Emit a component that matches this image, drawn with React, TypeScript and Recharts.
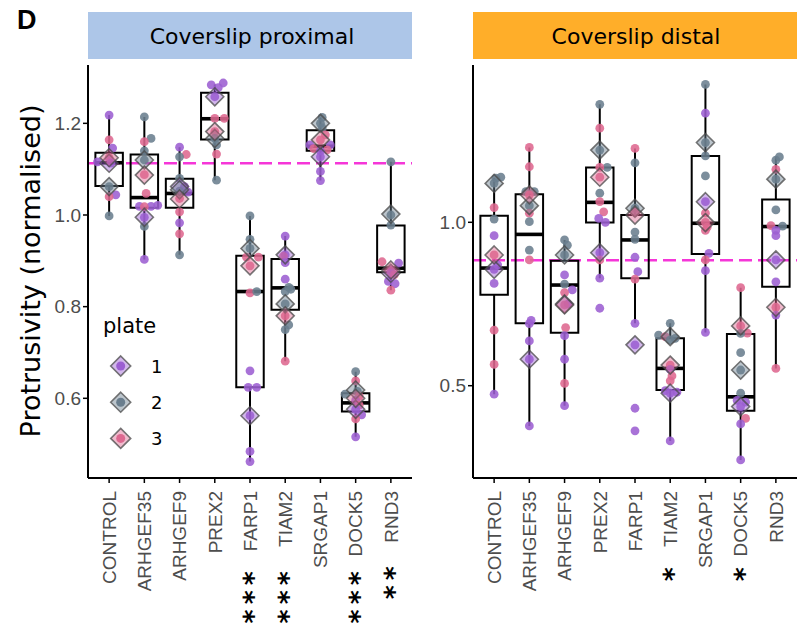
import React from "react";
import { ScatterChart, Scatter, XAxis, YAxis, ReferenceLine } from "recharts";

const categories = ["CONTROL", "ARHGEF35", "ARHGEF9", "PREX2", "FARP1", "TIAM2", "SRGAP1", "DOCK5", "RND3"];
const plates = [1, 2, 3];

// [category (1-based), value, plate, jitter]
const proximalPoints: [number, number, number, number][] = [
  [1, 1.218, 1, 0], [1, 1.164, 3, 0], [1, 1.146, 1, 0.1], [1, 1.116, 1, -0.33], [1, 1.125, 3, 0],
  [1, 1.113, 1, 0.05], [1, 1.062, 2, 0], [1, 1.044, 1, 0.19], [1, 1.04, 3, 0], [1, 0.998, 2, 0],
  [2, 1.214, 2, 0], [2, 1.167, 2, 0.19], [2, 1.16, 3, 0], [2, 1.14, 2, 0], [2, 1.12, 2, 0],
  [2, 1.088, 3, 0], [2, 1.047, 3, 0.05], [2, 1.019, 1, -0.14], [2, 1.019, 1, 0.19], [2, 1.021, 1, 0.38],
  [2, 1.018, 3, 0], [2, 0.995, 1, 0], [2, 0.975, 2, 0], [2, 0.903, 1, 0],
  [3, 1.148, 1, 0], [3, 1.132, 3, 0.19], [3, 1.127, 2, 0], [3, 1.08, 2, 0], [3, 1.062, 1, 0.14],
  [3, 1.05, 1, 0.24], [3, 1.052, 2, 0], [3, 1.036, 3, 0], [3, 1.007, 3, 0], [3, 0.983, 1, 0],
  [3, 0.959, 3, 0], [3, 0.913, 2, 0],
  [4, 1.284, 1, -0.1], [4, 1.288, 1, 0.24], [4, 1.278, 1, 0.1], [4, 1.258, 1, 0], [4, 1.211, 3, 0],
  [4, 1.211, 3, 0.27], [4, 1.182, 3, 0], [4, 1.167, 2, 0], [4, 1.153, 2, 0.05], [4, 1.133, 3, 0.05],
  [4, 1.076, 2, 0.05],
  [5, 0.998, 2, 0], [5, 0.947, 2, 0], [5, 0.927, 2, 0], [5, 0.908, 3, -0.1], [5, 0.908, 3, 0.24],
  [5, 0.889, 3, 0], [5, 0.83, 3, 0], [5, 0.833, 2, 0.19], [5, 0.66, 1, 0], [5, 0.624, 1, -0.05],
  [5, 0.624, 1, 0.19], [5, 0.562, 1, 0], [5, 0.484, 1, 0], [5, 0.462, 1, 0],
  [6, 0.954, 1, 0], [6, 0.913, 1, 0], [6, 0.91, 3, -0.05], [6, 0.896, 1, 0], [6, 0.86, 1, 0],
  [6, 0.842, 2, 0.1], [6, 0.838, 2, 0.16], [6, 0.833, 2, 0], [6, 0.806, 2, 0], [6, 0.78, 3, 0],
  [6, 0.76, 2, 0.1], [6, 0.75, 2, 0], [6, 0.681, 3, 0],
  [7, 1.213, 2, 0.05], [7, 1.2, 2, 0], [7, 1.19, 2, 0.05], [7, 1.175, 3, 0.14], [7, 1.164, 3, 0],
  [7, 1.153, 1, -0.3], [7, 1.153, 1, 0.28], [7, 1.145, 3, -0.19], [7, 1.142, 3, 0.19], [7, 1.14, 1, 0],
  [7, 1.127, 1, 0], [7, 1.095, 1, 0], [7, 1.075, 1, 0],
  [8, 0.658, 2, 0], [8, 0.638, 3, 0], [8, 0.609, 2, -0.3], [8, 0.615, 2, 0.05], [8, 0.605, 3, 0.1],
  [8, 0.596, 1, 0], [8, 0.585, 3, 0.1], [8, 0.576, 1, 0], [8, 0.564, 1, 0.17], [8, 0.555, 3, 0],
  [8, 0.516, 1, 0],
  [9, 1.116, 2, 0], [9, 1.0, 2, 0], [9, 0.978, 2, 0], [9, 0.898, 3, -0.25], [9, 0.895, 1, 0.22],
  [9, 0.88, 3, 0], [9, 0.873, 1, 0], [9, 0.855, 1, -0.07], [9, 0.85, 1, 0.12], [9, 0.836, 3, 0],
  [9, 0.87, 3, 0.1],
];

const distalPoints: [number, number, number, number][] = [
  [1, 1.138, 2, 0.19], [1, 1.135, 2, 0.05], [1, 1.12, 2, 0], [1, 1.045, 3, 0], [1, 1.01, 2, 0],
  [1, 0.959, 1, 0], [1, 0.9, 3, 0], [1, 0.87, 1, 0.1], [1, 0.856, 1, 0], [1, 0.813, 1, 0],
  [1, 0.67, 3, 0], [1, 0.565, 3, 0], [1, 0.474, 1, 0],
  [2, 1.229, 3, 0], [2, 1.17, 3, 0], [2, 1.094, 2, -0.1], [2, 1.094, 2, 0.14], [2, 1.084, 3, 0],
  [2, 1.051, 2, 0], [2, 1.028, 3, 0], [2, 1.002, 2, 0], [2, 0.915, 2, 0], [2, 0.885, 3, 0],
  [2, 0.7, 1, 0.05], [2, 0.69, 1, 0], [2, 0.637, 1, 0], [2, 0.581, 1, 0], [2, 0.377, 1, 0],
  [3, 0.946, 2, 0], [3, 0.93, 2, 0.08], [3, 0.9, 2, 0], [3, 0.839, 1, 0], [3, 0.811, 2, 0],
  [3, 0.793, 1, 0.22], [3, 0.785, 3, 0], [3, 0.75, 1, 0.1], [3, 0.747, 3, 0], [3, 0.678, 3, 0.03],
  [3, 0.653, 1, 0], [3, 0.581, 1, 0], [3, 0.507, 3, 0], [3, 0.439, 1, 0],
  [4, 1.361, 2, 0], [4, 1.288, 3, 0], [4, 1.221, 2, 0], [4, 1.168, 2, 0.21], [4, 1.168, 3, 0],
  [4, 1.138, 3, 0], [4, 1.089, 2, 0], [4, 1.063, 3, 0], [4, 1.032, 3, 0.11], [4, 1.012, 1, -0.03],
  [4, 1.0, 1, 0.16], [4, 0.907, 1, 0], [4, 0.885, 3, 0], [4, 0.829, 1, 0], [4, 0.737, 1, 0],
  [5, 1.226, 3, 0], [5, 1.182, 2, 0], [5, 1.043, 2, 0], [5, 1.03, 3, 0], [5, 0.97, 2, 0],
  [5, 0.948, 2, 0], [5, 0.893, 1, 0], [5, 0.849, 1, 0.08], [5, 0.826, 3, 0], [5, 0.691, 1, 0],
  [5, 0.625, 1, 0], [5, 0.431, 1, 0], [5, 0.362, 1, 0],
  [6, 0.691, 2, 0], [6, 0.655, 2, -0.33], [6, 0.65, 3, -0.14], [6, 0.645, 2, 0.14], [6, 0.64, 2, 0],
  [6, 0.563, 3, 0], [6, 0.55, 1, 0], [6, 0.53, 3, 0.05], [6, 0.515, 3, 0], [6, 0.485, 1, -0.14],
  [6, 0.48, 1, 0.19], [6, 0.477, 1, 0], [6, 0.331, 1, 0],
  [7, 1.422, 2, 0], [7, 1.334, 1, 0], [7, 1.244, 2, 0], [7, 1.203, 2, 0], [7, 1.142, 2, 0],
  [7, 1.063, 1, 0], [7, 1.028, 3, 0], [7, 1.0, 3, 0], [7, 0.985, 3, 0.05], [7, 0.975, 3, 0],
  [7, 0.905, 1, 0.1], [7, 0.885, 3, 0], [7, 0.852, 1, 0], [7, 0.663, 1, 0],
  [8, 0.8, 3, 0], [8, 0.683, 3, 0], [8, 0.661, 3, 0.19], [8, 0.66, 2, 0], [8, 0.601, 2, 0],
  [8, 0.548, 2, 0], [8, 0.477, 2, 0], [8, 0.455, 1, -0.1], [8, 0.45, 1, 0.14], [8, 0.436, 1, 0],
  [8, 0.4, 3, 0.14], [8, 0.383, 1, 0], [8, 0.273, 1, 0],
  [9, 1.2, 2, 0.1], [9, 1.19, 2, 0], [9, 1.162, 3, 0], [9, 1.132, 2, 0], [9, 1.038, 2, 0],
  [9, 0.99, 3, -0.14], [9, 0.988, 2, 0.19], [9, 0.975, 1, 0], [9, 0.959, 1, 0], [9, 0.885, 1, 0],
  [9, 0.818, 1, 0], [9, 0.74, 3, 0], [9, 0.716, 1, 0], [9, 0.553, 3, 0],
];

// plate means (diamonds), one value per category
const proximalMean1 = [1.113, 0.995, 1.062, 1.258, 0.562, 0.913, 1.127, 0.576, 0.873];
const proximalMean2 = [1.062, 1.12, 1.055, 1.167, 0.927, 0.806, 1.2, 0.618, 1.002];
const proximalMean3 = [1.125, 1.087, 1.035, 1.182, 0.889, 0.78, 1.164, 0.6, 0.88];
const distalMean1 = [0.856, 0.581, 0.75, 0.907, 0.625, 0.477, 1.063, 0.436, 0.885];
const distalMean2 = [1.119, 1.051, 0.9, 1.221, 1.043, 0.65, 1.244, 0.548, 1.132];
const distalMean3 = [0.9, 1.084, 0.747, 1.138, 1.022, 0.563, 0.999, 0.683, 0.74];

// box plot statistics
const proximalLow = [0.998, 0.903, 0.913, 1.076, 0.462, 0.681, 1.075, 0.516, 0.836];
const proximalQ1 = [1.063, 1.016, 1.016, 1.165, 0.624, 0.793, 1.14, 0.571, 0.875];
const proximalMedian = [1.114, 1.038, 1.047, 1.21, 0.833, 0.841, 1.15, 0.59, 0.884];
const proximalQ3 = [1.136, 1.132, 1.079, 1.267, 0.911, 0.904, 1.185, 0.611, 0.977];
const proximalHigh = [1.218, 1.214, 1.148, 1.285, 0.998, 0.954, 1.213, 0.658, 1.116];
const distalLow = [0.474, 0.377, 0.439, 0.829, 0.691, 0.331, 0.663, 0.273, 0.553];
const distalQ1 = [0.778, 0.691, 0.662, 0.999, 0.829, 0.487, 0.903, 0.423, 0.803];
const distalMedian = [0.86, 0.963, 0.808, 1.061, 0.946, 0.553, 0.997, 0.466, 0.987];
const distalQ3 = [1.02, 1.086, 0.882, 1.168, 1.022, 0.645, 1.203, 0.658, 1.07];
const distalHigh = [1.135, 1.229, 0.946, 1.361, 1.226, 0.691, 1.422, 0.8, 1.2];

const proximalTicks = [0.6, 0.8, 1.0, 1.2];
const distalTicks = [0.5, 1.0];
const proximalControlLevel = 1.113;
const distalControlLevel = 0.884;
const proximalStars = ["", "", "", "", "***", "***", "", "***", "**"];
const distalStars = ["", "", "", "", "", "*", "", "*", ""];

const plateColors = ["#9C5FD2", "#6A7E8E", "#DE6890"];
const BOX_HALF = 0.39;
const TICK_GREY = "#4D4D4D";

function boxOutline(i: number, lo: number, q1: number, q3: number, hi: number) {
  const x = i + 1;
  return [
    { x, y: lo }, { x, y: q1 }, { x: x - BOX_HALF, y: q1 }, { x: x - BOX_HALF, y: q3 },
    { x, y: q3 }, { x, y: hi }, { x, y: q3 }, { x: x + BOX_HALF, y: q3 },
    { x: x + BOX_HALF, y: q1 }, { x, y: q1 },
  ];
}

const Nothing = () => <g />;

const Dot = (props: any) => {
  const plate = props.payload?.plate ?? 1;
  return <circle cx={props.cx} cy={props.cy} r={4.4} fill={plateColors[plate - 1]} fillOpacity={0.88} />;
};

const Diamond = (props: any) => {
  const plate = props.payload?.plate ?? 1;
  const { cx, cy } = props;
  const s = 9;
  return (
    <polygon
      points={`${cx},${cy - s} ${cx + s},${cy} ${cx},${cy + s} ${cx - s},${cy}`}
      fill={plateColors[plate - 1]}
      fillOpacity={0.45}
      stroke="#4a4a4a"
      strokeOpacity={0.75}
      strokeWidth={1.6}
    />
  );
};

function CategoryTick(props: any) {
  const { x, y, payload, stars } = props;
  const i = Math.round(payload.value) - 1;
  const s: string = stars[i] || "";
  // first star centre below the tick text anchor
  const first = s.length === 3 ? 93 : s.length === 2 ? 88 : 89;
  const fs = 27;
  const adv = fs * 0.5;
  return (
    <g transform={`translate(${x},${y})`}>
      <text
        transform="rotate(-90)"
        x={-6}
        y={0}
        dy="0.36em"
        textAnchor="end"
        fontFamily="Liberation Sans, Arial, sans-serif"
        fontSize={19}
        fill={TICK_GREY}
      >
        {categories[i]}
      </text>
      {s && (
        <text
          transform="rotate(90)"
          x={first - adv / 2}
          y={fs * 0.56}
          textAnchor="start"
          fontFamily="DejaVu Sans"
          fontWeight="bold"
          fontSize={fs}
          letterSpacing={18.5 - adv}
          fill="#000"
        >
          {s}
        </text>
      )}
    </g>
  );
}

interface PanelProps {
  left: number;
  width: number;
  axisWidth: number;
  rightPad: number;
  domain: [number, number];
  ticks: number[];
  points: [number, number, number, number][];
  means: number[][];
  low: number[];
  q1: number[];
  median: number[];
  q3: number[];
  high: number[];
  level: number;
  stars: string[];
}

function Panel(p: PanelProps) {
  const pointData = p.points.map(([c, v, plate, dx]) => ({ x: c + dx, y: v, plate }));
  const meanData = plates.flatMap((pl, k) => p.means[k].map((v, i) => ({ x: i + 1, y: v, plate: pl })));
  return (
    <div style={{ position: "absolute", left: p.left, top: 0 }}>
      <ScatterChart width={p.width} height={630} margin={{ top: 65, right: p.rightPad, bottom: 0, left: 0 }}>
        <XAxis
          type="number"
          dataKey="x"
          domain={[0.4, 9.6]}
          ticks={categories.map((_, i) => i + 1)}
          interval={0}
          allowDataOverflow
          height={152}
          axisLine={{ stroke: "#000", strokeWidth: 2 }}
          tickLine={{ stroke: "#000", strokeWidth: 1.5 }}
          tickSize={5}
          tick={<CategoryTick stars={p.stars} />}
        />
        <YAxis
          type="number"
          dataKey="y"
          domain={p.domain}
          ticks={p.ticks}
          allowDataOverflow
          width={p.axisWidth}
          axisLine={{ stroke: "#000", strokeWidth: 2 }}
          tickLine={{ stroke: "#000", strokeWidth: 1.5 }}
          tickSize={5}
          tickFormatter={(v: number) => v.toFixed(1)}
          tick={{ fontSize: 19, fill: TICK_GREY, fontFamily: "Liberation Sans, Arial, sans-serif" }}
        />
        {categories.map((_, i) => (
          <Scatter
            key={"box" + i}
            data={boxOutline(i, p.low[i], p.q1[i], p.q3[i], p.high[i])}
            line={{ stroke: "#000", strokeWidth: 2 }}
            lineJointType="linear"
            shape={Nothing}
            isAnimationActive={false}
          />
        ))}
        {categories.map((_, i) => (
          <Scatter
            key={"med" + i}
            data={[{ x: i + 1 - BOX_HALF, y: p.median[i] }, { x: i + 1 + BOX_HALF, y: p.median[i] }]}
            line={{ stroke: "#000", strokeWidth: 3.6 }}
            lineJointType="linear"
            shape={Nothing}
            isAnimationActive={false}
          />
        ))}
        <Scatter data={pointData} shape={Dot} isAnimationActive={false} />
        <Scatter data={meanData} shape={Diamond} isAnimationActive={false} />
        <ReferenceLine y={p.level} stroke="#F536D8" strokeWidth={2.5} strokeDasharray="13 6" />
      </ScatterChart>
    </div>
  );
}

export default function App() {
  return (
    <div style={{ position: "fixed", left: 0, top: 0, width: 806, height: 630, background: "#fff" }}>
      <Panel
        left={0}
        width={420}
        axisWidth={88}
        rightPad={8}
        domain={[0.4261, 1.3273]}
        ticks={proximalTicks}
        points={proximalPoints}
        means={[proximalMean1, proximalMean2, proximalMean3]}
        low={proximalLow}
        q1={proximalQ1}
        median={proximalMedian}
        q3={proximalQ3}
        high={proximalHigh}
        level={proximalControlLevel}
        stars={proximalStars}
      />
      <Panel
        left={420}
        width={386}
        axisWidth={53}
        rightPad={9}
        domain={[0.2176, 1.4813]}
        ticks={distalTicks}
        points={distalPoints}
        means={[distalMean1, distalMean2, distalMean3]}
        low={distalLow}
        q1={distalQ1}
        median={distalMedian}
        q3={distalQ3}
        high={distalHigh}
        level={distalControlLevel}
        stars={distalStars}
      />
      <svg width={806} height={630} style={{ position: "absolute", left: 0, top: 0, pointerEvents: "none" }}>
        <text x={17} y={29} fontFamily="Liberation Sans, Arial, sans-serif" fontWeight="bold" fontSize={27}>
          D
        </text>
        <rect x={88} y={12} width={324} height={47} fill="#ADC6E8" />
        <text x={252} y={36} textAnchor="middle" dominantBaseline="central" fontFamily="DejaVu Sans" fontSize={22}>
          Coverslip proximal
        </text>
        <rect x={473} y={12} width={324} height={47} fill="#FFAE29" />
        <text x={636} y={36} textAnchor="middle" dominantBaseline="central" fontFamily="DejaVu Sans" fontSize={22}>
          Coverslip distal
        </text>
        <text
          transform="translate(30,271) rotate(-90)"
          textAnchor="middle"
          dominantBaseline="central"
          fontFamily="DejaVu Sans"
          fontSize={27}
        >
          Protrusivity (normalised)
        </text>
        <text x={103} y={333} fontFamily="DejaVu Sans" fontSize={21}>
          plate
        </text>
        {plates.map((pl, k) => {
          const cx = 120.7;
          const cy = 366 + k * 36.2;
          const s = 10;
          return (
            <g key={pl}>
              <polygon
                points={`${cx},${cy - s} ${cx + s},${cy} ${cx},${cy + s} ${cx - s},${cy}`}
                fill={plateColors[k]}
                fillOpacity={0.45}
                stroke="#4a4a4a"
                strokeOpacity={0.75}
                strokeWidth={1.6}
              />
              <circle cx={cx} cy={cy} r={4.5} fill={plateColors[k]} />
              <text x={151} y={cy} dominantBaseline="central" fontFamily="DejaVu Sans" fontSize={18}>
                {pl}
              </text>
            </g>
          );
        })}
      </svg>
    </div>
  );
}
